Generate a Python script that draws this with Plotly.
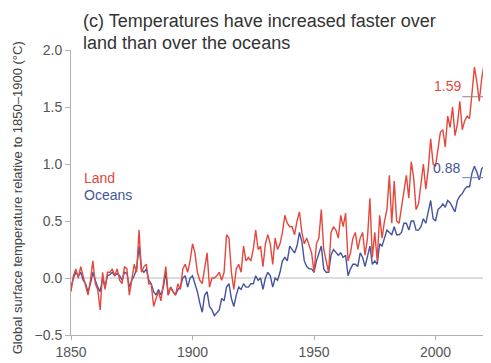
import plotly.graph_objects as go

years = list(range(1850, 2021))

land = [
    -0.12, 0.02, 0.08, 0.00, 0.10, 0.02, -0.05, -0.15, -0.02, 0.15,   # 1850s
    -0.05, -0.10, -0.28, 0.05, -0.10, 0.05, 0.05, 0.08, 0.02, 0.08,   # 1860s
    -0.02, -0.05, 0.10, 0.08, -0.15, -0.02, 0.12, 0.05, 0.42, 0.05,   # 1870s
    0.10, 0.12, -0.05, -0.05, -0.25, -0.18, -0.12, -0.20, -0.05, 0.10,  # 1880s
    -0.15, -0.08, -0.12, -0.15, -0.05, -0.10, 0.08, 0.12, 0.05, 0.15,  # 1890s
    0.30, 0.22, 0.05, -0.02, -0.05, 0.08, 0.22, -0.08, 0.00, 0.00,    # 1900s
    0.02, 0.05, -0.02, 0.05, 0.38, 0.35, 0.05, -0.10, 0.08, 0.12,     # 1910s
    0.05, 0.28, 0.15, 0.18, 0.15, 0.25, 0.42, 0.25, 0.28, 0.10,       # 1920s
    0.30, 0.38, 0.30, 0.12, 0.35, 0.25, 0.30, 0.40, 0.55, 0.48,       # 1930s
    0.45, 0.45, 0.38, 0.50, 0.58, 0.40, 0.30, 0.35, 0.28, 0.22,       # 1940s
    0.05, 0.30, 0.35, 0.60, 0.25, 0.15, 0.05, 0.40, 0.45, 0.42,       # 1950s
    0.35, 0.55, 0.45, 0.57, 0.15, 0.22, 0.35, 0.40, 0.25, 0.35,       # 1960s
    0.40, 0.20, 0.35, 0.70, 0.18, 0.40, 0.15, 0.55, 0.35, 0.50,       # 1970s
    0.60, 0.90, 0.48, 0.85, 0.50, 0.48, 0.62, 0.75, 0.90, 0.70,       # 1980s
    1.02, 0.88, 0.60, 0.65, 0.82, 1.00, 0.78, 0.95, 1.22, 1.00,       # 1990s
    0.98, 1.15, 1.28, 1.30, 1.15, 1.42, 1.32, 1.50, 1.25, 1.35,       # 2000s
    1.55, 1.30, 1.38, 1.42, 1.40, 1.62, 1.85, 1.72, 1.55, 1.75,       # 2010s
    1.88,                                                             # 2020
]

oceans = [
    -0.08, 0.00, 0.05, 0.02, 0.05, -0.02, -0.05, -0.12, -0.05, 0.05,
    -0.02, -0.08, -0.12, 0.00, -0.08, 0.02, 0.03, 0.05, 0.02, 0.04,
    0.02, -0.02, 0.05, 0.04, -0.08, -0.02, 0.02, 0.08, 0.28, 0.08,
    0.05, 0.08, -0.02, -0.05, -0.12, -0.15, -0.10, -0.15, -0.08, 0.05,
    -0.15, -0.08, -0.12, -0.15, -0.10, -0.08, 0.00, 0.02, -0.08, 0.00,
    0.02, -0.05, -0.12, -0.22, -0.30, -0.15, -0.12, -0.25, -0.28, -0.33,
    -0.30, -0.28, -0.18, -0.20, -0.08, -0.05, -0.18, -0.25, -0.15, -0.08,
    -0.10, -0.05, -0.08, -0.08, -0.05, -0.05, 0.02, -0.02, 0.00, -0.10,
    0.00, 0.05, 0.02, -0.08, 0.00, -0.02, 0.05, 0.15, 0.18, 0.15,
    0.28, 0.25, 0.22, 0.28, 0.40, 0.32, 0.15, 0.10, 0.08, 0.08,
    0.05, 0.15, 0.22, 0.28, 0.08, 0.05, 0.05, 0.20, 0.25, 0.22,
    0.20, 0.22, 0.18, 0.20, 0.02, 0.08, 0.12, 0.12, 0.10, 0.22,
    0.18, 0.10, 0.20, 0.28, 0.12, 0.15, 0.12, 0.30, 0.28, 0.35,
    0.42, 0.40, 0.38, 0.45, 0.38, 0.38, 0.40, 0.48, 0.48, 0.42,
    0.50, 0.50, 0.42, 0.42, 0.45, 0.52, 0.48, 0.58, 0.68, 0.52,
    0.50, 0.60, 0.62, 0.65, 0.62, 0.68, 0.66, 0.62, 0.58, 0.68,
    0.72, 0.74, 0.78, 0.80, 0.80, 0.92, 0.98, 0.93, 0.86, 0.96,
    0.98,
]

recent_years = [2011, 2020]
land_recent_mean = 1.59
oceans_recent_mean = 0.88

y_ticks = [-0.5, 0.0, 0.5, 1.0, 1.5, 2.0]
x_ticks = [1850, 1900, 1950, 2000]

RED = "#e5473d"
BLUE = "#44549c"
FONT = "Liberation Sans, Arial, sans-serif"

fig = go.Figure()
fig.add_trace(go.Scatter(x=years, y=oceans, mode="lines",
                         line=dict(color=BLUE, width=1.4), name="Oceans"))
fig.add_trace(go.Scatter(x=years, y=land, mode="lines",
                         line=dict(color=RED, width=1.4), name="Land"))
fig.add_trace(go.Scatter(x=recent_years, y=[land_recent_mean] * 2, mode="lines",
                         line=dict(color="#a08080", width=1), hoverinfo="skip"))
fig.add_trace(go.Scatter(x=recent_years, y=[oceans_recent_mean] * 2, mode="lines",
                         line=dict(color="#7080a8", width=1), hoverinfo="skip"))

ann = []
ann.append(dict(x=1854.3, y=1.0, xref="x", yref="paper", yshift=29,
                text="(c) Temperatures have increased faster over",
                showarrow=False, xanchor="left", yanchor="middle",
                font=dict(size=18, color="#333", family=FONT)))
ann.append(dict(x=1854.3, y=1.0, xref="x", yref="paper", yshift=7,
                text="land than over the oceans",
                showarrow=False, xanchor="left", yanchor="middle",
                font=dict(size=18, color="#333", family=FONT)))
ann.append(dict(x=1854.5, y=0.88, xref="x", yref="y", text="Land",
                showarrow=False, xanchor="left", yanchor="middle",
                font=dict(size=14, color=RED, family=FONT)))
ann.append(dict(x=1854.5, y=0.725, xref="x", yref="y", text="Oceans",
                showarrow=False, xanchor="left", yanchor="middle",
                font=dict(size=14, color=BLUE, family=FONT)))
ann.append(dict(x=2011.3, y=land_recent_mean, xref="x", yref="y",
                text=f"{land_recent_mean:.2f}", yshift=11,
                showarrow=False, xanchor="right", yanchor="middle",
                font=dict(size=14, color=RED, family=FONT)))
ann.append(dict(x=2011.0, y=oceans_recent_mean, xref="x", yref="y",
                text=f"{oceans_recent_mean:.2f}", yshift=10,
                showarrow=False, xanchor="right", yanchor="middle",
                font=dict(size=14, color=BLUE, family=FONT)))
ann.append(dict(x=-0.129, y=0.48, xref="paper", yref="paper",
                text="Global surface temperature relative to 1850–1900 (°C)",
                textangle=-90, showarrow=False, xanchor="center", yanchor="middle",
                font=dict(size=13, color="#444", family=FONT)))

# The page body has an 8px default margin, so the figure is sized to fit
fig.update_layout(
    width=483, height=355,
    margin=dict(l=63, r=2, t=42, b=28),
    paper_bgcolor="white", plot_bgcolor="white",
    showlegend=False,
    annotations=ann,
    font=dict(family=FONT, color="#555"),
)
fig.update_xaxes(range=[1850, 2022], tickvals=x_ticks, showgrid=False,
                 showline=True, linecolor="#b0b0b0", linewidth=1,
                 ticks="outside", ticklen=4, tickcolor="#b0b0b0",
                 tickfont=dict(size=14, color="#555", family=FONT),
                 zeroline=False, automargin=False)
fig.update_yaxes(range=[-0.5, 2.0], tickvals=y_ticks, tickformat=".1f",
                 showgrid=False, showline=True, linecolor="#b0b0b0", linewidth=1,
                 ticks="outside", ticklen=5, tickcolor="#b0b0b0",
                 tickfont=dict(size=14, color="#555", family=FONT),
                 zeroline=True, zerolinecolor="#dcdcdc", zerolinewidth=1.5,
                 automargin=False)

fig.write_html("out.html")
